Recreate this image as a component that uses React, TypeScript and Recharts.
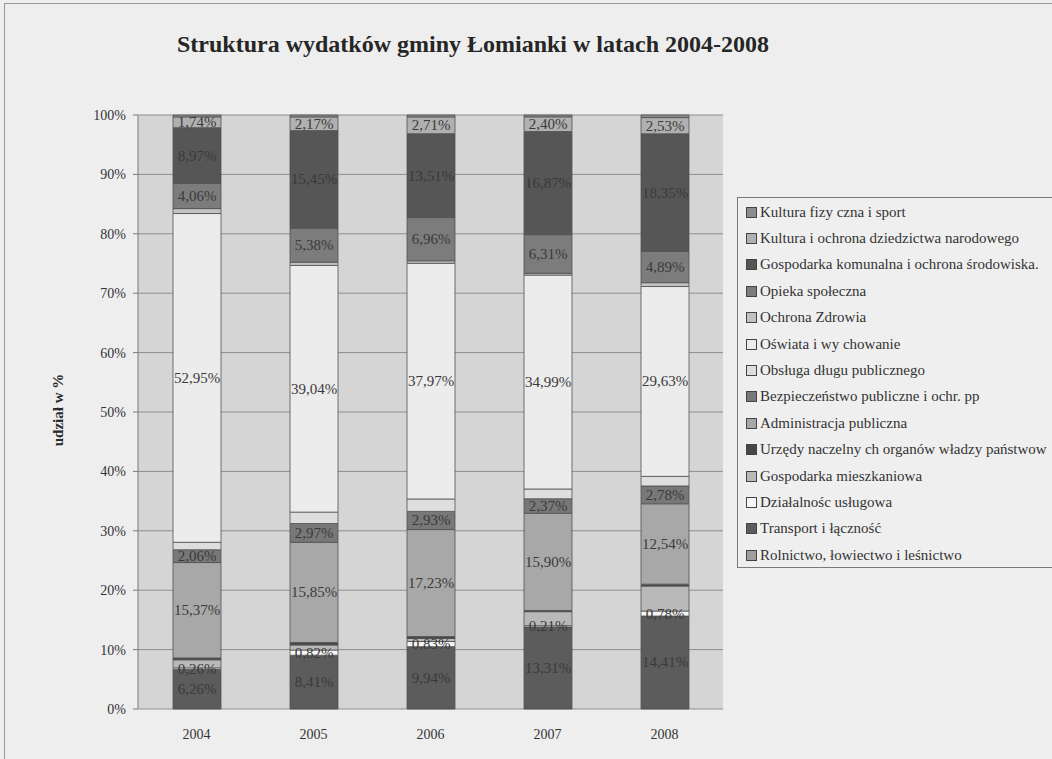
import React from "react";
import { BarChart, Bar, XAxis, YAxis, CartesianGrid, LabelList } from "recharts";

const years = ["2004", "2005", "2006", "2007", "2008"];

// shares per budget section (%), labelled ones, the thin unlabelled ones estimated
const rolnictwo = [0.1, 0.1, 0.1, 0.1, 0.1];
const transport = [6.26, 8.41, 9.94, 13.31, 14.41];
const dzialalnosc = [0.26, 0.82, 0.83, 0.21, 0.78];
const gospMieszkaniowa = [1.3, 0.8, 0.5, 2.3, 3.9];
const urzedy = [0.3, 0.4, 0.3, 0.2, 0.3];
const administracja = [15.37, 15.85, 17.23, 15.9, 12.54];
const bezpieczenstwo = [2.06, 2.97, 2.93, 2.37, 2.78];
const obslugaDlugu = [1.2, 1.8, 2.0, 1.6, 1.5];
const oswiata = [52.95, 39.04, 37.97, 34.99, 29.63];
const ochronaZdrowia = [0.8, 0.5, 0.4, 0.3, 0.6];
const opieka = [4.06, 5.38, 6.96, 6.31, 4.89];
const gospKomunalna = [8.97, 15.45, 13.51, 16.87, 18.35];
const kulturaDziedzictwo = [1.74, 2.17, 2.71, 2.4, 2.53];
const kulturaFizyczna = [0.3, 0.3, 0.3, 0.3, 0.4];

const yTicks = [0, 0.1, 0.2, 0.3, 0.4, 0.5, 0.6, 0.7, 0.8, 0.9, 1];

// bottom of the stack first
const series = [
  { key: "rolnictwo", name: "Rolnictwo, łowiectwo i leśnictwo", values: rolnictwo, fill: "#9e9e9e", labeled: false },
  { key: "transport", name: "Transport i łączność", values: transport, fill: "#5c5c5c", labeled: true },
  { key: "dzialalnosc", name: "Działalnośc usługowa", values: dzialalnosc, fill: "#f6f6f6", labeled: true },
  { key: "gospMieszkaniowa", name: "Gospodarka mieszkaniowa", values: gospMieszkaniowa, fill: "#b9b9b9", labeled: false },
  { key: "urzedy", name: "Urzędy naczelny ch organów władzy państwow", values: urzedy, fill: "#474747", labeled: false },
  { key: "administracja", name: "Administracja publiczna", values: administracja, fill: "#a8a8a8", labeled: true },
  { key: "bezpieczenstwo", name: "Bezpieczeństwo publiczne i ochr. pp", values: bezpieczenstwo, fill: "#787878", labeled: true },
  { key: "obslugaDlugu", name: "Obsługa długu publicznego", values: obslugaDlugu, fill: "#dedede", labeled: false },
  { key: "oswiata", name: "Oświata i wy chowanie", values: oswiata, fill: "#ececec", labeled: true },
  { key: "ochronaZdrowia", name: "Ochrona Zdrowia", values: ochronaZdrowia, fill: "#c2c2c2", labeled: false },
  { key: "opieka", name: "Opieka społeczna", values: opieka, fill: "#7c7c7c", labeled: true },
  { key: "gospKomunalna", name: "Gospodarka  komunalna i ochrona środowiska.", values: gospKomunalna, fill: "#565656", labeled: true },
  { key: "kulturaDziedzictwo", name: "Kultura i ochrona dziedzictwa narodowego", values: kulturaDziedzictwo, fill: "#b0b0b0", labeled: true },
  { key: "kulturaFizyczna", name: "Kultura fizy czna i sport", values: kulturaFizyczna, fill: "#8c8c8c", labeled: false },
];

const data = years.map((year, i) => {
  const row: Record<string, string | number> = { year };
  series.forEach((s) => {
    row[s.key] = s.values[i];
  });
  return row;
});

const serif = "'Liberation Serif', 'DejaVu Serif', serif";
const fmt = (v: number) => `${v.toFixed(2).replace(".", ",")}%`;

function makeLabel(values: number[]) {
  return (props: any) => {
    const { x, y, width, height, index } = props;
    if (index == null || values[index] == null) return null;
    return (
      <text
        x={Number(x) + Number(width) / 2}
        y={Number(y) + Number(height) / 2}
        textAnchor="middle"
        dominantBaseline="central"
        fontSize={15}
        fontFamily={serif}
        fill="#3a3a3a"
      >
        {fmt(values[index])}
      </text>
    );
  };
}

export default function App() {
  const legendItems = [...series].reverse();
  return (
    <div
      style={{
        position: "fixed",
        left: 0,
        top: 0,
        width: 1052,
        height: 759,
        overflow: "hidden",
        background: "#eeeeee",
        fontFamily: serif,
      }}
    >
      <div
        style={{
          position: "absolute",
          left: 4,
          top: 3,
          width: 1100,
          height: 800,
          borderLeft: "1px solid #9a9a9a",
          borderTop: "1px solid #9a9a9a",
        }}
      />
      <div
        style={{
          position: "absolute",
          left: 0,
          width: 946,
          top: 31,
          textAlign: "center",
          fontWeight: "bold",
          fontSize: 24,
          color: "#262626",
          whiteSpace: "nowrap",
        }}
      >
        Struktura wydatków gminy Łomianki w latach 2004-2008
      </div>
      <div
        style={{
          position: "absolute",
          left: 58,
          top: 410,
          transform: "translate(-50%, -50%) rotate(-90deg)",
          fontWeight: "bold",
          fontSize: 15,
          color: "#2a2a2a",
          whiteSpace: "nowrap",
        }}
      >
        udział w %
      </div>
      <div style={{ position: "absolute", left: 0, top: 0 }}>
        <BarChart
          width={745}
          height={759}
          data={data}
          stackOffset="expand"
          barSize={48}
          margin={{ top: 115, right: 22, left: 78, bottom: 22 }}
        >
          <CartesianGrid vertical={false} stroke="#8e8e8e" fill="#d5d5d5" />
          <XAxis
            xAxisId="edge"
            type="number"
            domain={[0, 5]}
            ticks={[0, 1, 2, 3, 4, 5]}
            allowDataOverflow
            tick={false}
            height={0}
            tickSize={5}
            axisLine={{ stroke: "#7a7a7a" }}
            tickLine={{ stroke: "#7a7a7a" }}
          />
          <XAxis
            dataKey="year"
            axisLine={false}
            tickLine={false}
            height={28}
            tickMargin={14}
            tick={{ fill: "#333", fontSize: 14, fontFamily: serif }}
          />
          <XAxis
            xAxisId="top"
            orientation="top"
            type="number"
            domain={[0, 1]}
            allowDataOverflow
            height={0}
            tick={false}
            tickLine={false}
            axisLine={{ stroke: "#8e8e8e" }}
          />
          <YAxis
            domain={[0, 1]}
            ticks={yTicks}
            tickFormatter={(v) => `${Math.round(v * 100)}%`}
            width={60}
            tickSize={5}
            tickMargin={7}
            axisLine={{ stroke: "#7a7a7a" }}
            tickLine={{ stroke: "#7a7a7a" }}
            tick={{ fill: "#333", fontSize: 14, fontFamily: serif }}
          />
          <YAxis
            yAxisId="right"
            orientation="right"
            width={0}
            tick={false}
            tickLine={false}
            axisLine={{ stroke: "#8e8e8e" }}
          />
          {series.map((s) => (
            <Bar
              key={s.key}
              dataKey={s.key}
              name={s.name}
              stackId="a"
              fill={s.fill}
              stroke="#505050"
              strokeWidth={0.8}
              isAnimationActive={false}
            >
              {s.labeled && <LabelList dataKey={s.key} content={makeLabel(s.values)} />}
            </Bar>
          ))}
        </BarChart>
      </div>
      <div
        style={{
          position: "absolute",
          left: 737,
          top: 197,
          width: 340,
          height: 371,
          border: "1px solid #7a7a7a",
          boxSizing: "border-box",
          background: "#efefef",
          padding: "1px 0 0 8px",
        }}
      >
        {legendItems.map((s) => (
          <div
            key={s.key}
            style={{
              display: "flex",
              alignItems: "center",
              height: 26.4,
              fontSize: 15,
              color: "#333",
              whiteSpace: "nowrap",
            }}
          >
            <span
              style={{
                display: "inline-block",
                width: 9,
                height: 9,
                marginRight: 3,
                background: s.fill,
                border: "1px solid #444",
                flexShrink: 0,
              }}
            />
            {s.name}
          </div>
        ))}
      </div>
    </div>
  );
}
